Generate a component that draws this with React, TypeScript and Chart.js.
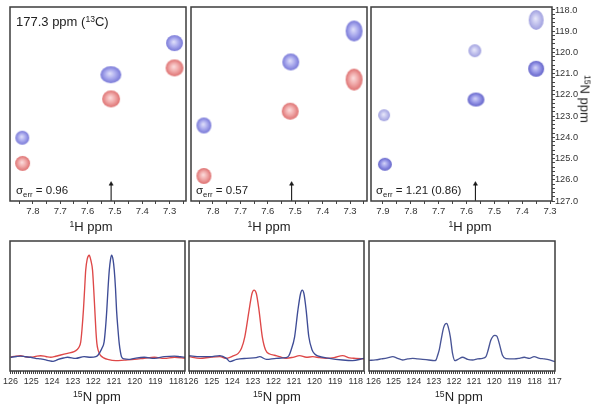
import React, { useEffect, useRef } from "react";
import { Chart, registerables } from "chart.js";

Chart.register(...registerables);

// ================= DATA =================
// 2D spectra: peak positions (1H ppm, 15N ppm)
const p1BlueH = [7.282, 7.515, 7.839];
const p1BlueN = [119.56, 121.05, 124.02];
const p1RedH = [7.282, 7.514, 7.838];
const p1RedN = [120.73, 122.19, 125.23];

const p2BlueH = [7.285, 7.516, 7.833];
const p2BlueN = [118.99, 120.45, 123.44];
const p2RedH = [7.285, 7.518, 7.833];
const p2RedN = [121.28, 122.77, 125.82];

const p3LightH = [7.35, 7.57, 7.896];
const p3LightN = [118.47, 119.92, 122.96];
const p3DarkH = [7.35, 7.566, 7.893];
const p3DarkN = [120.77, 122.22, 125.27];

// 1H position of the 1D slices (arrows)
const sliceH = [7.514, 7.513, 7.568];

// tick labels
const hLabels12 = [7.8, 7.7, 7.6, 7.5, 7.4, 7.3];
const hLabels3 = [7.9, 7.8, 7.7, 7.6, 7.5, 7.4, 7.3];
const nLabels2D = [118, 119, 120, 121, 122, 123, 124, 125, 126, 127];
const nLabels45 = [126, 125, 124, 123, 122, 121, 120, 119, 118];
const nLabels6 = [126, 125, 124, 123, 122, 121, 120, 119, 118, 117];

// 1D slices: 15N ppm and intensity
const p4RedPpm = [126.0, 125.92, 125.72, 125.52, 125.28, 125.03, 124.8, 124.55, 124.3, 124.06, 123.82, 123.58, 123.25, 122.93, 122.78, 122.69, 122.61, 122.55, 122.48, 122.42, 122.37, 122.3, 122.2, 122.12, 122.04, 121.98, 121.93, 121.88, 121.83, 121.77, 121.7, 121.64, 121.5, 121.31, 120.91, 120.51, 120.02, 119.54, 119.05, 118.57, 118.08, 117.57];
const p4RedInt = [0.012, 0.016, 0.022, 0.025, 0.015, 0.01, 0.018, 0.025, 0.018, 0.01, 0.02, 0.032, 0.048, 0.064, 0.085, 0.11, 0.16, 0.28, 0.47, 0.68, 0.855, 0.96, 1.0, 0.95, 0.855, 0.66, 0.47, 0.28, 0.145, 0.08, 0.045, 0.025, 0.005, -0.01, -0.023, -0.017, -0.01, 0.0, 0.01, 0.0, 0.01, 0.0];

const p4BluePpm = [126.0, 125.72, 125.52, 125.28, 125.03, 124.8, 124.55, 124.3, 124.15, 123.95, 123.8, 123.7, 123.4, 123.25, 122.85, 122.45, 122.13, 121.88, 121.78, 121.68, 121.58, 121.48, 121.41, 121.35, 121.29, 121.23, 121.17, 121.12, 121.05, 120.99, 120.93, 120.88, 120.81, 120.75, 120.69, 120.64, 120.5, 120.3, 120.02, 119.54, 119.05, 118.57, 118.08, 117.8, 117.57];
const p4BlueInt = [0.01, 0.018, 0.022, 0.015, 0.01, 0.0, -0.006, -0.015, -0.023, -0.03, -0.02, -0.01, 0.005, 0.01, 0.0, 0.016, 0.01, 0.016, 0.03, 0.06, 0.1, 0.16, 0.3, 0.47, 0.68, 0.855, 0.96, 1.0, 0.96, 0.855, 0.68, 0.47, 0.28, 0.145, 0.06, 0.016, -0.006, -0.01, 0.0, 0.01, 0.0, 0.016, 0.022, 0.015, 0.01];

const p5RedPpm = [126.1, 125.56, 125.08, 124.6, 124.28, 123.95, 123.71, 123.55, 123.39, 123.18, 123.04, 122.94, 122.83, 122.7, 122.54, 122.38, 122.18, 121.95, 121.7, 121.38, 121.05, 120.73, 120.4, 120.09, 119.75, 119.44, 119.05, 118.64, 118.3, 118.0, 117.6];
const p5RedInt = [0.016, 0.0, 0.01, 0.016, 0.0, 0.023, 0.048, 0.097, 0.209, 0.468, 0.629, 0.661, 0.629, 0.468, 0.209, 0.081, 0.042, 0.03, 0.016, 0.0, 0.01, 0.026, 0.01, 0.016, 0.006, 0.0, 0.006, 0.026, 0.005, 0.0, -0.006];

const p5BluePpm = [126.1, 125.56, 125.08, 124.6, 124.28, 124.11, 123.79, 123.31, 122.83, 122.67, 122.34, 121.86, 121.38, 121.25, 121.14, 120.97, 120.81, 120.68, 120.6, 120.52, 120.41, 120.28, 120.12, 119.98, 119.85, 119.28, 118.64, 118.16, 117.6];
const p5BlueInt = [0.026, 0.016, 0.016, 0.026, 0.0, -0.032, -0.01, 0.0, 0.006, 0.016, -0.01, 0.0, 0.006, 0.025, 0.081, 0.209, 0.468, 0.629, 0.661, 0.629, 0.468, 0.209, 0.081, 0.04, 0.023, 0.0, -0.016, -0.022, 0.0];

const p6Ppm = [126.22, 125.9, 125.62, 125.3, 125.04, 124.8, 124.55, 124.3, 124.05, 123.8, 123.55, 123.25, 122.98, 122.89, 122.81, 122.73, 122.61, 122.51, 122.42, 122.35, 122.28, 122.18, 122.07, 121.95, 121.8, 121.57, 121.32, 121.07, 120.83, 120.58, 120.41, 120.3, 120.17, 120.05, 119.97, 119.87, 119.75, 119.59, 119.42, 119.0, 118.75, 118.51, 118.25, 118.02, 117.75, 117.52, 117.25, 116.98];
const p6Int = [-0.02, -0.015, -0.006, 0.005, 0.016, 0.0, -0.016, -0.006, 0.0, -0.006, -0.01, -0.016, -0.023, -0.016, 0.03, 0.081, 0.209, 0.3, 0.335, 0.339, 0.3, 0.209, 0.048, -0.023, -0.01, 0.01, -0.01, -0.016, -0.006, 0.0, 0.016, 0.081, 0.175, 0.215, 0.222, 0.215, 0.145, 0.03, -0.003, -0.006, 0.0, 0.01, 0.0, 0.016, 0.0, -0.006, -0.016, -0.032];

// ================= STYLE / LAYOUT =================
const FIG_W = 601;
const FIG_H = 409;
const X_AXIS_H = 20;
const Y_AXIS_W = 30;

type Box = { l: number; t: number; r: number; b: number };
const BOX1: Box = { l: 10, t: 7, r: 186, b: 201 };
const BOX2: Box = { l: 191, t: 7, r: 367, b: 201 };
const BOX3: Box = { l: 371, t: 7, r: 552, b: 201 };
const BOX4: Box = { l: 10, t: 241, r: 185, b: 371 };
const BOX5: Box = { l: 189, t: 241, r: 364, b: 371 };
const BOX6: Box = { l: 369, t: 241, r: 555, b: 371 };

// blob sizes (px) for each peak, same order as the data arrays
const p1BlueW = [17, 21, 14], p1BlueHt = [16, 17, 14];
const p1RedW = [18, 18, 15], p1RedHt = [17, 17, 15];
const p2BlueW = [17, 17, 15], p2BlueHt = [21, 17, 16];
const p2RedW = [17, 17, 15], p2RedHt = [22, 17, 16];
const p3LightW = [15, 13, 12], p3LightHt = [20, 13, 12];
const p3DarkW = [16, 17, 14], p3DarkHt = [16, 14, 13];

type BlobColors = { edge: string; mid: string; core: string };
const BLUE_BLOB: BlobColors = { edge: "rgb(132,132,220)", mid: "rgb(172,172,238)", core: "rgb(226,226,250)" };
const RED_BLOB: BlobColors = { edge: "rgb(226,126,126)", mid: "rgb(240,170,170)", core: "rgb(252,222,222)" };
const LIGHT_BLOB: BlobColors = { edge: "rgb(168,168,226)", mid: "rgb(196,196,238)", core: "rgb(234,234,251)" };
const DARK_BLOB: BlobColors = { edge: "rgb(112,112,208)", mid: "rgb(154,154,232)", core: "rgb(214,214,248)" };

const RED_LINE = "rgb(222,72,72)";
const BLUE_LINE = "rgb(62,76,150)";
const FRAME = "#3c3c3c";
const TEXT = "#222";
const FONT_FAMILY = "'Liberation Sans', Arial, Helvetica, sans-serif";
const TOP_TICK_FONT = { family: FONT_FAMILY, size: 9.5 };
const RIGHT_TICK_FONT = { family: FONT_FAMILY, size: 9.2 };
const BOTTOM_TICK_FONT = { family: FONT_FAMILY, size: 9 };

const H_RANGE1: [number, number] = [7.24, 7.884];
const H_RANGE2: [number, number] = [7.238, 7.88];
const H_RANGE3: [number, number] = [7.293, 7.943];
const N_RANGE2D: [number, number] = [117.86, 127.0];
const X_RANGE4: [number, number] = [117.57, 126.03];
const X_RANGE5: [number, number] = [117.6, 126.1];
const X_RANGE6: [number, number] = [116.98, 126.22];
const INT_RANGE: [number, number] = [-0.123, 1.138];

// ================= HELPERS =================
function steps(a: number, b: number, step: number): number[] {
  const out: number[] = [];
  const n = Math.round((b - a) / step);
  for (let i = 0; i <= n; i++) out.push(+(a + i * step).toFixed(4));
  return out;
}
const isLabel = (labels: number[], v: number) => labels.some((l) => Math.abs(l - v) < 1e-6);

function makeBlob(w: number, h: number, c: BlobColors): HTMLCanvasElement {
  const cv = document.createElement("canvas");
  const pad = 1;
  cv.width = Math.round(w) + pad * 2;
  cv.height = Math.round(h) + pad * 2;
  const g = cv.getContext("2d")!;
  g.translate(cv.width / 2, cv.height / 2);
  g.scale(w / 2, h / 2);
  const grad = g.createRadialGradient(-0.1, -0.15, 0, 0, 0, 1);
  grad.addColorStop(0, c.core);
  grad.addColorStop(0.5, c.mid);
  grad.addColorStop(0.88, c.edge);
  grad.addColorStop(1, c.edge);
  g.fillStyle = grad;
  g.beginPath();
  g.arc(0, 0, 1, 0, Math.PI * 2);
  g.fill();
  return cv;
}

function blobSet(h: number[], n: number[], w: number[], ht: number[], c: BlobColors) {
  return {
    data: h.map((x, i) => ({ x, y: n[i] })),
    pointStyle: h.map((_, i) => makeBlob(w[i], ht[i], c)),
    pointRadius: 6,
    pointHoverRadius: 6,
    showLine: false,
  };
}

function arrowSet(x: number) {
  return {
    data: [
      { x, y: 127.0 },
      { x, y: 126.2 },
    ],
    showLine: true,
    borderColor: "#1a1a1a",
    borderWidth: 1.1,
    pointStyle: "triangle",
    pointRadius: [0, 2.4],
    pointBackgroundColor: "#1a1a1a",
    pointBorderColor: "#1a1a1a",
    pointBorderWidth: 0.5,
  };
}

function lineSet(ppm: number[], val: number[], color: string) {
  const n = Math.min(ppm.length, val.length);
  return {
    data: ppm.slice(0, n).map((x, i) => ({ x, y: val[i] })),
    showLine: true,
    borderColor: color,
    borderWidth: 1.35,
    pointRadius: 0,
    cubicInterpolationMode: "monotone",
    fill: false,
  };
}

function xScale(range: [number, number], tickVals: number[], labels: number[], digits: number, font: any) {
  const [min, max] = range;
  return {
    type: "linear",
    position: "bottom",
    reverse: true,
    min,
    max,
    afterBuildTicks: (s: any) => {
      s.ticks = tickVals.filter((v) => v >= min - 1e-9 && v <= max + 1e-9).map((v) => ({ value: v }));
    },
    afterFit: (s: any) => {
      s.height = X_AXIS_H;
    },
    ticks: {
      autoSkip: false,
      maxRotation: 0,
      minRotation: 0,
      padding: 2,
      color: "#333",
      font,
      callback: (v: any) => (isLabel(labels, Number(v)) ? Number(v).toFixed(digits) : ""),
    },
    grid: { drawOnChartArea: false, drawTicks: true, tickLength: 3, color: "#444", lineWidth: 1 },
    border: { display: false },
  };
}

function yRightScale(range: [number, number], tickVals: number[], labels: number[]) {
  const [min, max] = range;
  return {
    type: "linear",
    position: "right",
    reverse: true,
    min,
    max,
    afterBuildTicks: (s: any) => {
      s.ticks = tickVals.filter((v) => v >= min - 1e-9 && v <= max + 1e-9).map((v) => ({ value: v }));
    },
    afterFit: (s: any) => {
      s.width = Y_AXIS_W;
    },
    ticks: {
      autoSkip: false,
      padding: 0,
      color: "#333",
      font: RIGHT_TICK_FONT,
      callback: (v: any) => (isLabel(labels, Number(v)) ? Number(v).toFixed(1) : ""),
    },
    grid: { drawOnChartArea: false, drawTicks: true, tickLength: 3, color: "#444", lineWidth: 1 },
    border: { display: false },
  };
}

const framePlugin = {
  id: "frame",
  afterDatasetsDraw(chart: any) {
    const { ctx, chartArea } = chart;
    const { left, top, right, bottom } = chartArea;
    ctx.save();
    ctx.strokeStyle = FRAME;
    ctx.lineWidth = 1.5;
    ctx.strokeRect(left, top, right - left, bottom - top);
    ctx.restore();
  },
};

function baseOptions(box: Box, rightAxis: boolean, scales: any) {
  return {
    responsive: false,
    animation: false,
    events: [],
    layout: {
      autoPadding: false,
      padding: {
        left: box.l,
        top: box.t,
        right: FIG_W - box.r - (rightAxis ? Y_AXIS_W : 0),
        bottom: FIG_H - box.b - X_AXIS_H,
      },
    },
    plugins: { legend: { display: false }, tooltip: { enabled: false } },
    scales,
  };
}

const hTicks12 = steps(7.25, 7.85, 0.05);
const hTicks3 = steps(7.3, 7.9, 0.05);
const nTicks2D = steps(118, 127, 0.2);
const nTicks1D = steps(116.9, 126.3, 0.1);

function config2D(box: Box, xr: [number, number], hTicks: number[], hLabels: number[], sets: any[], arrowX: number, rightAxis: boolean) {
  return {
    type: "scatter",
    data: { datasets: [...sets, arrowSet(arrowX)] },
    options: baseOptions(box, rightAxis, {
      x: xScale(xr, hTicks, hLabels, 1, TOP_TICK_FONT),
      y: rightAxis
        ? yRightScale(N_RANGE2D, nTicks2D, nLabels2D)
        : { type: "linear", display: false, reverse: true, min: N_RANGE2D[0], max: N_RANGE2D[1] },
    }),
    plugins: [framePlugin],
  };
}

function config1D(box: Box, xr: [number, number], labels: number[], sets: any[]) {
  return {
    type: "scatter",
    data: { datasets: sets },
    options: baseOptions(box, false, {
      x: xScale(xr, nTicks1D, labels, 0, BOTTOM_TICK_FONT),
      y: { type: "linear", display: false, min: INT_RANGE[0], max: INT_RANGE[1] },
    }),
    plugins: [framePlugin],
  };
}

const makers: Array<() => any> = [
  () =>
    config2D(BOX1, H_RANGE1, hTicks12, hLabels12, [
      blobSet(p1BlueH, p1BlueN, p1BlueW, p1BlueHt, BLUE_BLOB),
      blobSet(p1RedH, p1RedN, p1RedW, p1RedHt, RED_BLOB),
    ], sliceH[0], false),
  () =>
    config2D(BOX2, H_RANGE2, hTicks12, hLabels12, [
      blobSet(p2BlueH, p2BlueN, p2BlueW, p2BlueHt, BLUE_BLOB),
      blobSet(p2RedH, p2RedN, p2RedW, p2RedHt, RED_BLOB),
    ], sliceH[1], false),
  () =>
    config2D(BOX3, H_RANGE3, hTicks3, hLabels3, [
      blobSet(p3LightH, p3LightN, p3LightW, p3LightHt, LIGHT_BLOB),
      blobSet(p3DarkH, p3DarkN, p3DarkW, p3DarkHt, DARK_BLOB),
    ], sliceH[2], true),
  () => config1D(BOX4, X_RANGE4, nLabels45, [lineSet(p4BluePpm, p4BlueInt, BLUE_LINE), lineSet(p4RedPpm, p4RedInt, RED_LINE)]),
  () => config1D(BOX5, X_RANGE5, nLabels45, [lineSet(p5BluePpm, p5BlueInt, BLUE_LINE), lineSet(p5RedPpm, p5RedInt, RED_LINE)]),
  () => config1D(BOX6, X_RANGE6, nLabels6, [lineSet(p6Ppm, p6Int, "rgb(72,84,150)")]),
];

// ================= COMPONENTS =================
function ChartLayer({ make }: { make: () => any }) {
  const ref = useRef<HTMLCanvasElement>(null);
  useEffect(() => {
    if (!ref.current) return;
    const chart = new Chart(ref.current, make());
    return () => chart.destroy();
  }, [make]);
  return (
    <canvas
      ref={ref}
      width={FIG_W}
      height={FIG_H}
      style={{ position: "absolute", left: 0, top: 0, width: FIG_W, height: FIG_H, pointerEvents: "none" }}
    />
  );
}

const Sup = ({ children }: { children: React.ReactNode }) => (
  <span style={{ fontSize: "0.66em", position: "relative", top: "-0.5em" }}>{children}</span>
);
const Sub = ({ children }: { children: React.ReactNode }) => (
  <span style={{ fontSize: "0.68em", position: "relative", top: "0.32em" }}>{children}</span>
);

function Label({ x, y, size, children, center = true, rotate = 0 }: { x: number; y: number; size: number; children: React.ReactNode; center?: boolean; rotate?: number }) {
  const tx = center ? "-50%" : "0";
  return (
    <div
      style={{
        position: "absolute",
        left: x,
        top: y,
        transform: `translate(${tx}, -50%)${rotate ? ` rotate(${rotate}deg)` : ""}`,
        transformOrigin: center ? "center" : "left center",
        whiteSpace: "nowrap",
        fontFamily: FONT_FAMILY,
        fontSize: size,
        lineHeight: 1,
        color: TEXT,
      }}
    >
      {children}
    </div>
  );
}

export default function App() {
  return (
    <div style={{ position: "absolute", left: 0, top: 0, width: FIG_W, height: FIG_H, background: "#fff", overflow: "hidden" }}>
      {makers.map((m, i) => (
        <ChartLayer key={i} make={m} />
      ))}
      <Label x={16} y={21} size={13} center={false}>
        177.3 ppm (<Sup>13</Sup>C)
      </Label>
      <Label x={16} y={191} size={11.5} center={false}>
        σ<Sub>err</Sub> = 0.96
      </Label>
      <Label x={196} y={191} size={11.5} center={false}>
        σ<Sub>err</Sub> = 0.57
      </Label>
      <Label x={376} y={191} size={11.5} center={false}>
        σ<Sub>err</Sub> = 1.21 (0.86)
      </Label>
      <Label x={91} y={226} size={13}>
        <Sup>1</Sup>H ppm
      </Label>
      <Label x={269} y={226} size={13}>
        <Sup>1</Sup>H ppm
      </Label>
      <Label x={470} y={226} size={13}>
        <Sup>1</Sup>H ppm
      </Label>
      <Label x={585} y={99} size={13} rotate={90}>
        <Sup>15</Sup>N ppm
      </Label>
      <Label x={97} y={396} size={13}>
        <Sup>15</Sup>N ppm
      </Label>
      <Label x={277} y={396} size={13}>
        <Sup>15</Sup>N ppm
      </Label>
      <Label x={459} y={396} size={13}>
        <Sup>15</Sup>N ppm
      </Label>
    </div>
  );
}
